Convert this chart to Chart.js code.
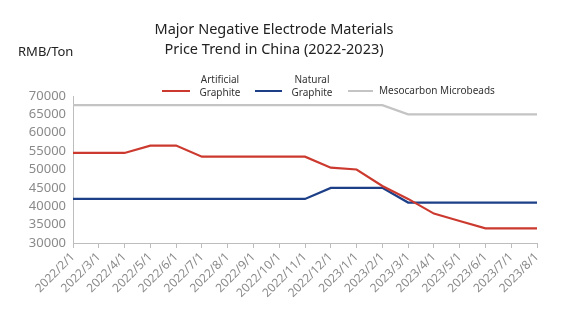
<!DOCTYPE html>
<html>
<head>
<meta charset="utf-8">
<script src="https://cdn.jsdelivr.net/npm/chart.js@4/dist/chart.umd.min.js"></script>
<style>
  html, body { margin: 0; padding: 0; background: #fff; }
  #wrap { width: 578px; height: 333px; position: relative; }
</style>
</head>
<body>
<div id="wrap"><canvas id="c" width="578" height="333"></canvas></div>
<script>
// Monthly price points, RMB per ton
const months = ["2022/2/1","2022/3/1","2022/4/1","2022/5/1","2022/6/1","2022/7/1","2022/8/1","2022/9/1","2022/10/1","2022/11/1","2022/12/1","2023/1/1","2023/2/1","2023/3/1","2023/4/1","2023/5/1","2023/6/1","2023/7/1","2023/8/1"];
const artificialGraphite = [54500,54500,54500,56500,56500,53500,53500,53500,53500,53500,50500,50000,45500,42000,38000,36000,34000,34000,34000];
const naturalGraphite    = [42000,42000,42000,42000,42000,42000,42000,42000,42000,42000,45000,45000,45000,41000,41000,41000,41000,41000,41000];
const mesocarbon         = [67500,67500,67500,67500,67500,67500,67500,67500,67500,67500,67500,67500,67500,65000,65000,65000,65000,65000,65000];
const seriesNames = [["Artificial","Graphite"],["Natural","Graphite"],["Mesocarbon Microbeads"]];
const yTicks = [30000,35000,40000,45000,50000,55000,60000,65000,70000];

const FONT = '"Noto Sans", "Open Sans", sans-serif';
const colors = ["#cc3a2f", "#1d3f88", "#c4c4c4"];

// Title, unit caption and a legend with two-line labels
const decorations = {
  id: 'decorations',
  afterDraw(chart) {
    const ctx = chart.ctx;
    ctx.save();
    ctx.fillStyle = '#222';
    ctx.textAlign = 'center';
    ctx.textBaseline = 'middle';
    ctx.font = '14.5px ' + FONT;
    ctx.fillText('Major Negative Electrode Materials', 274, 30);
    ctx.fillText('Price Trend in China (2022-2023)', 274, 50);
    ctx.textAlign = 'left';
    ctx.font = '13px ' + FONT;
    ctx.fillText('RMB/Ton', 18, 52);

    const items = [
      { x0: 162, x1: 190, tx: 220, align: 'center' },
      { x0: 255, x1: 282, tx: 312, align: 'center' },
      { x0: 348, x1: 373, tx: 379, align: 'left' }
    ];
    ctx.font = '10px ' + FONT;
    chart.data.datasets.forEach((ds, i) => {
      const it = items[i];
      const y = 91;
      ctx.strokeStyle = ds.borderColor;
      ctx.lineWidth = 2;
      ctx.beginPath();
      ctx.moveTo(it.x0, y);
      ctx.lineTo(it.x1, y);
      ctx.stroke();
      ctx.fillStyle = '#333';
      ctx.textAlign = it.align;
      const lines = seriesNames[i];
      if (lines.length === 1) {
        ctx.fillText(lines[0], it.tx, y);
      } else {
        ctx.fillText(lines[0], it.tx, y - 11);
        ctx.fillText(lines[1], it.tx, y + 2);
      }
    });
    ctx.restore();
  }
};

new Chart(document.getElementById('c'), {
  type: 'line',
  data: {
    labels: months,
    datasets: [
      { label: seriesNames[0].join(' '), data: artificialGraphite, borderColor: colors[0], backgroundColor: colors[0] },
      { label: seriesNames[1].join(' '), data: naturalGraphite, borderColor: colors[1], backgroundColor: colors[1] },
      { label: seriesNames[2].join(' '), data: mesocarbon, borderColor: colors[2], backgroundColor: colors[2] }
    ]
  },
  options: {
    responsive: false,
    animation: false,
    devicePixelRatio: 1,
    elements: {
      line: { borderWidth: 2.2, tension: 0 },
      point: { radius: 0, hoverRadius: 0 }
    },
    layout: { padding: { top: 96, right: 41, bottom: 0, left: 0 } },
    plugins: {
      legend: { display: false },
      title: { display: false },
      tooltip: { enabled: false }
    },
    scales: {
      x: {
        offset: false,
        grid: { display: true, drawOnChartArea: false, color: '#bdbdbd', tickLength: 5, tickColor: '#bdbdbd' },
        border: { color: '#bdbdbd', width: 1 },
        ticks: {
          autoSkip: false,
          maxRotation: 45,
          minRotation: 45,
          color: '#8a8a8a',
          font: { family: FONT, size: 12 },
          padding: 2
        },
        afterFit(scale) { scale.height = 90; }
      },
      y: {
        min: 30000,
        max: 70000,
        afterBuildTicks(scale) { scale.ticks = yTicks.map(v => ({ value: v })); },
        grid: { display: false, drawTicks: false },
        border: { color: '#bdbdbd', width: 1 },
        ticks: {
          autoSkip: false,
          color: '#8a8a8a',
          font: { family: FONT, size: 13 },
          padding: 7,
          callback: v => String(v)
        },
        afterFit(scale) { scale.width = 73; }
      }
    }
  },
  plugins: [decorations]
});
</script>
</body>
</html>
